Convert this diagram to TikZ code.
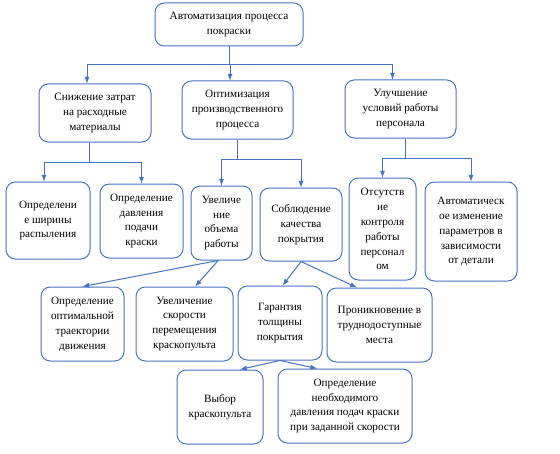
\documentclass[tikz,border=0pt]{standalone}
\usepackage{fontspec}
\setmainfont{Liberation Serif}
\definecolor{boxblue}{HTML}{4472C4}
\tikzset{
  box/.style={draw=boxblue,line width=0.75pt,rounded corners=7pt,align=center,inner sep=1pt,font=\fontsize{8.4}{11.2}\selectfont},
  link/.style={draw=boxblue,line width=0.75pt},
  arr/.style={link,-latex},
}
\begin{document}
\begin{tikzpicture}[x=0.75pt,y=-0.75pt]
\useasboundingbox (0,0) rectangle (560,453);
% top
\node[box,minimum width=111pt,minimum height=32.25pt] (avtom) at (229,24.5) {Автоматизация процесса\\покраски};
% first level
\node[box,minimum width=84pt,minimum height=43.5pt] (snizh) at (95,113) {Снижение затрат\\на расходные\\материалы};
\node[box,minimum width=83.25pt,minimum height=43.5pt] (optim) at (237.5,110) {Оптимизация\\производственного\\процесса};
\node[box,minimum width=83.25pt,minimum height=43.5pt] (uluch) at (400.5,109) {Улучшение\\условий работы\\персонала};
% second level
\node[box,minimum width=63pt,minimum height=57.75pt] (shir) at (48,220.5) {Определени\\е ширины\\распыления};
\node[box,minimum width=62.25pt,minimum height=55.5pt] (davl) at (141.5,221) {Определение\\давления\\подачи\\краски};
\node[box,minimum width=45.75pt,minimum height=55.5pt] (obem) at (221.5,223) {Увеличе\\ние\\объема\\работы};
\node[box,minimum width=61.5pt,minimum height=54.75pt] (kach) at (301,224.5) {Соблюдение\\качества\\покрытия};
\node[box,minimum width=50.25pt,minimum height=76.5pt] (kontr) at (382.5,229) {Отсутств\\ие\\контроля\\работы\\персонал\\ом};
\node[box,minimum width=69pt,minimum height=74.25pt] (param) at (471,231.5) {Автоматическ\\ое изменение\\параметров в\\зависимости\\от детали};
% third level
\node[box,minimum width=62.25pt,minimum height=55.5pt] (traekt) at (82.5,324) {Определение\\оптимальной\\траектории\\движения};
\node[box,minimum width=72.75pt,minimum height=55.5pt] (skor) at (184.5,324) {Увеличение\\скорости\\перемещения\\краскопульта};
\node[box,minimum width=63pt,minimum height=55.5pt] (tolsh) at (280,323) {Гарантия\\толщины\\покрытия};
\node[box,minimum width=78.75pt,minimum height=55.5pt] (pronik) at (379.5,325) {Проникновение в\\труднодоступные\\места};
% fourth level
\node[box,minimum width=64.5pt,minimum height=55.5pt] (vybor) at (220,407) {Выбор\\краскопульта};
\node[box,minimum width=100.5pt,minimum height=55.5pt] (davlpod) at (345,406) {Определение\\необходимого\\давления подач краски\\при заданной скорости};
% tree links
\draw[link] (avtom.south) -- ++(0,18) coordinate (j0);
\draw[arr] (j0) -| ([xshift=-6pt]snizh.north);
\draw[arr] (j0) -| ([xshift=-5.6pt]optim.north);
\draw[arr] (j0) -| ([xshift=-6pt]uluch.north);
\draw[link] ([xshift=-4.5pt]snizh.south) -- ++(0,20) coordinate (j1);
\draw[arr] (j1) -| ([xshift=-3pt]shir.north);
\draw[arr] (j1) -| (davl.north);
\draw[link] (optim.south) -- ++(0,20) coordinate (j2);
\draw[arr] (j2) -| (obem.north);
\draw[arr] (j2) -| (kach.north);
\draw[link] ([xshift=3.5pt]uluch.south) -- ++(0,20) coordinate (j3);
\draw[arr] (j3) -| (kontr.north);
\draw[arr] (j3) -| (param.north);
% diagonal links
\draw[arr] ([xshift=-2.5pt]obem.south) -- (traekt.north);
\draw[arr] ([xshift=-2.5pt]obem.south) -- ([xshift=8pt]skor.north);
\draw[arr] (kach.south) -- ([xshift=2pt]tolsh.north);
\draw[arr] (kach.south) -- ([xshift=-17pt]pronik.north);
\draw[arr] (tolsh.south) -- ([xshift=15pt]vybor.north);
\draw[arr] (tolsh.south) -- ([xshift=-21pt]davlpod.north);
\end{tikzpicture}
\end{document}
